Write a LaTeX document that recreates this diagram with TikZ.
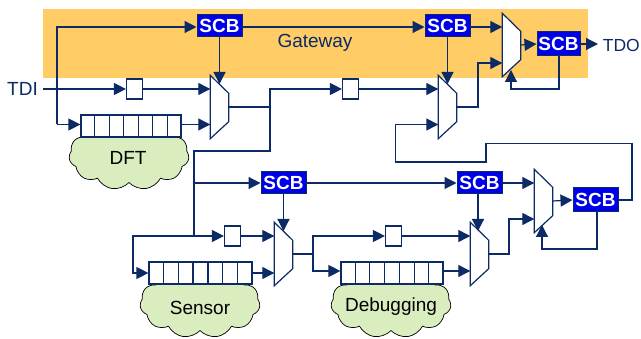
\documentclass[tikz,border=0pt]{standalone}
\usepackage{fontspec}
\setmainfont{Liberation Sans}
\usetikzlibrary{arrows.meta,calc,shapes.symbols}
\definecolor{navy}{HTML}{0B2A66}
\definecolor{scbblue}{HTML}{0000E6}
\definecolor{gateorange}{HTML}{FFCC66}
\definecolor{cloudgreen}{HTML}{D9EDBF}
\begin{document}
\begin{tikzpicture}[
        x=1pt, y=-1pt,
        font=\fontsize{19}{20}\selectfont,
        scbnode/.style={draw=navy, fill=scbblue, text=white, font=\fontsize{19}{20}\selectfont\bfseries, line width=1pt, inner sep=0pt, minimum width=45pt, minimum height=22pt},
        muxnode/.style={inner sep=0pt, minimum width=18pt, minimum height=63pt},
        flopnode/.style={draw=navy, fill=white, line width=1.2pt, inner sep=0pt, minimum width=16pt, minimum height=20pt},
        chainnode/.style={draw=navy, fill=white, line width=1.2pt, inner sep=0pt, minimum width=102pt, minimum height=22pt},
        cloudnode/.style={cloud, cloud puffs=11, cloud puff arc=110, aspect=1.8, draw=black, fill=cloudgreen, line width=0.7pt, inner sep=0pt, minimum width=120pt, minimum height=70pt},
        labelnode/.style={text=navy, inner sep=0pt},
        wire/.style={draw=navy, line width=1.2pt},
        conn/.style={wire, -{Triangle[length=12pt,width=12pt]}},
        ]
        \useasboundingbox (0,0) rectangle (641,339);

        % Gateway band
        \node[fill=gateorange, inner sep=0pt, minimum width=545pt, minimum height=69pt] (band) at (315.5,43.5) {};
        \node[labelnode] (gateway) at (315,43) {Gateway};

        % Clouds
        \node[cloudnode] (dft) at (129,155) {};
        \node[cloudnode] (sensor) at (200,303) {};
        \node[cloudnode] (debugging) at (391,303) {};
        \node (dfttext) at (128,158) {DFT};
        \node (sensortext) at (200,308) {Sensor};
        \node (debuggingtext) at (391,307) {Debugging};

        % SCB
        \node[scbnode] (scba) at (219.5,26) {SCB};
        \node[scbnode] (scbb) at (447.5,26) {SCB};
        \node[scbnode, minimum width=43pt, minimum height=24pt] (scbc) at (558.5,44) {SCB};
        \node[scbnode] (scbd) at (283.5,183) {SCB};
        \node[scbnode] (scbe) at (479.5,183) {SCB};
        \node[scbnode, minimum width=45pt, minimum height=24pt] (scbf) at (595.5,200) {SCB};

        % Muxes
        \node[muxnode] (muxa) at (219.5,107) {};
        \node[muxnode] (muxb) at (447.5,107) {};
        \node[muxnode] (muxc) at (511.5,45) {};
        \node[muxnode] (muxd) at (283.5,254) {};
        \node[muxnode] (muxe) at (479.5,254) {};
        \node[muxnode] (muxf) at (543.5,201) {};
        \foreach \m in {muxa,muxb,muxc,muxd,muxe,muxf}
            \draw[wire, fill=white] (\m.north west) -- ([yshift=-18pt]\m.north east) -- ([yshift=17pt]\m.south east) -- (\m.south west) -- cycle;

        % Flops
        \node[flopnode] (flopa) at (134.5,89) {};
        \node[flopnode] (flopb) at (350.5,89) {};
        \node[flopnode] (flopc) at (232.5,236) {};
        \node[flopnode] (flopd) at (393.5,236) {};

        % Chains
        \node[chainnode, minimum width=100pt] (chaina) at (131,126) {};
        \node[chainnode, minimum width=103pt] (chainb) at (200.5,273) {};
        \node[chainnode] (chainc) at (392,273) {};
        \foreach \c in {chaina,chainb,chainc}
            \foreach \i in {1,...,6}
                \draw[wire] ($(\c.north west)!\i/7!(\c.north east)$) -- ($(\c.south west)!\i/7!(\c.south east)$);

        % Free ends
        \coordinate (tdi) at (43,89);
        \node[labelnode, anchor=east] (tdilabel) at (38,89) {TDI};
        \node[labelnode, anchor=east, font=\fontsize{17.5}{20}\selectfont] (tdolabel) at (640,45) {TDO};
        \coordinate (tipa) at (219.5,84);
        \coordinate (tipb) at (447.5,84);
        \coordinate (tipc) at (511,70);
        \coordinate (tipd) at (283.5,231);
        \coordinate (tipe) at (478,231);
        \coordinate (tipf) at (542,225);

        % Gateway row
        \draw[conn] (57,124.5) -- (57,27) -- (scba.west |- 0,27);
        \draw[conn] (57,124.5) -- (chaina.west |- 0,124.5);
        \draw[conn] (scba.east |- 0,27) -- (scbb.west |- 0,27);
        \draw[conn] (scbb.east |- 0,27) -- (muxc.west |- 0,27);
        \draw[conn] (scba.south) -- (tipa);
        \draw[conn] (scbb.south) -- (tipb);
        \draw[conn] (tdi) -- (flopa);
        \draw[conn] (flopa) -- (flopa -| muxa.west);
        \draw[conn] (chaina.east |- 0,124.5) -- (muxa.west |- 0,124.5);
        \draw[wire] (muxa.east) -- (270,107) -- (270,151) -- (194,151) -- (194,236);
        \draw[conn] (270,107) -- (270,89) -- (flopb);
        \draw[conn] (flopb) -- (flopb -| muxb.west);
        \draw[conn] (muxb.east) -- (478,107) -- (478,63) -- (muxc.west |- 0,63);
        \draw[conn] (muxc.east) -- (scbc.west);
        \draw[conn] (scbc.east) -- (598,44);
        \draw[conn] (scbc.south -| 559,0) -- (559,89) -- (511,89) -- (tipc);

        % Return path
        \draw[conn] (scbf.east) -- (632,200) -- (632,143.5) -- (486,143.5) -- (486,162) -- (395.5,162) -- (395.5,124.5) -- (muxb.west |- 0,124.5);

        % Lower row
        \draw[conn] (194,183) -- (scbd.west);
        \draw[conn] (scbd.east) -- (scbe.west);
        \draw[conn] (scbe.east) -- (muxf.west |- 0,183);
        \draw[conn] (scbd.south) -- (tipd);
        \draw[conn] (scbe.south -| 478,0) -- (tipe);
        \draw[conn] (194,236) -- (flopc);
        \draw[conn] (194,236) -- (133,236) -- (133,273) -- (chainb.west);
        \draw[conn] (flopc) -- (flopc -| muxd.west);
        \draw[conn] (chainb.east) -- (muxd.west |- 0,273);
        \draw[conn] (muxd.east) -- (313,254) -- (313,236) -- (flopd);
        \draw[conn] (313,254) -- (313,271) -- (chainc.west |- 0,271);
        \draw[conn] (flopd) -- (flopd -| muxe.west);
        \draw[conn] (chainc.east |- 0,271) -- (muxe.west |- 0,271);
        \draw[conn] (muxe.east) -- (509,254) -- (509,219) -- (muxf.west |- 0,219);
        \draw[conn] (muxf.east) -- (scbf.west);
        \draw[conn] (scbf.south -| 597,0) -- (597,249) -- (542,249) -- (tipf);

    \end{tikzpicture}
\end{document}
